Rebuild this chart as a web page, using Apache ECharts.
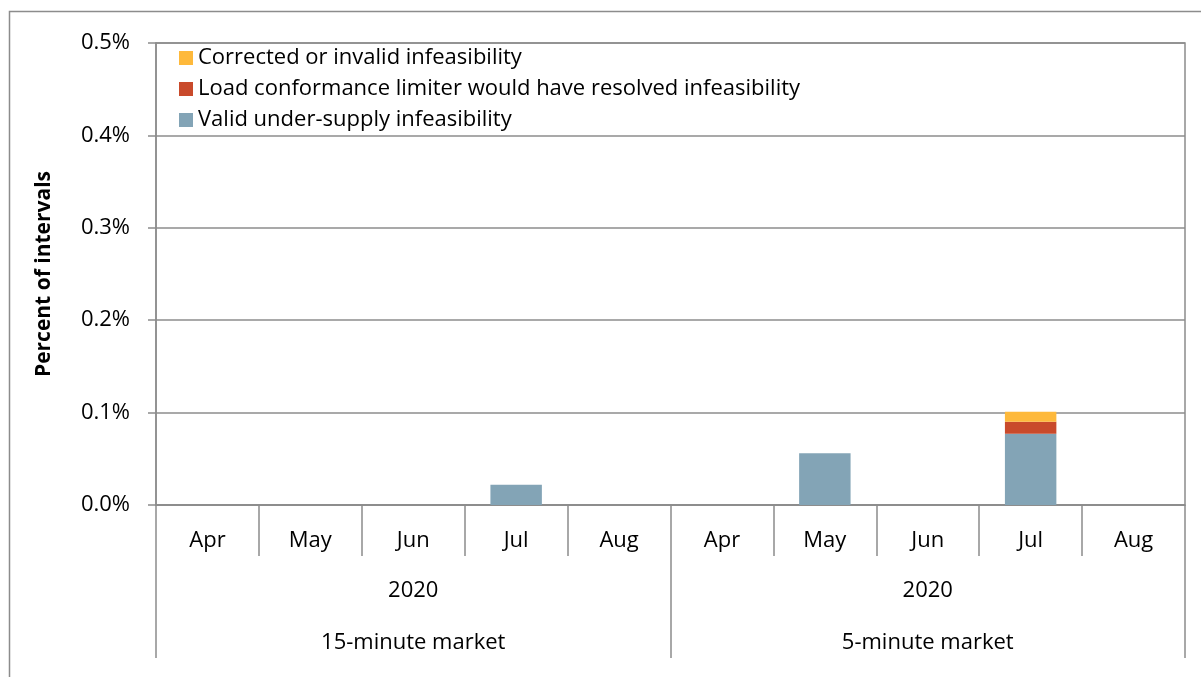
<!DOCTYPE html>
<html>
<head>
<meta charset="utf-8">
<script src="https://cdn.jsdelivr.net/npm/echarts@6/dist/echarts.min.js"></script>
<style>
  html, body { margin: 0; padding: 0; background: #fff; }
  #main { width: 1201px; height: 677px; }
</style>
</head>
<body>
<div id="main"></div>
<script>
// months, one per bar slot
var months = ['Apr', 'May', 'Jun', 'Jul', 'Aug', 'Apr', 'May', 'Jun', 'Jul', 'Aug'];
var years = ['2020', '2020'];
var markets = ['15-minute market', '5-minute market'];

// percent of intervals
var validUnder = [0, 0, 0, 0.022, 0, 0, 0.056, 0, 0.077, 0];
var loadConf = [0, 0, 0, 0, 0, 0, 0, 0, 0.013, 0];
var corrected = [0, 0, 0, 0, 0, 0, 0, 0, 0.011, 0];

var yTicks = [0, 0.1, 0.2, 0.3, 0.4, 0.5];

var FONT = 'Open Sans';
var FS = 22;
var GREY = '#8c8c8c';

var myChart = echarts.init(document.getElementById('main'));

var option = {
    backgroundColor: '#fff',
    animation: false,
    textStyle: { fontFamily: FONT, color: '#000' },
    graphic: [
        {
            // outer chart frame
            type: 'rect',
            shape: { x: 9.5, y: 11.5, width: 1300, height: 800 },
            style: { fill: 'none', stroke: GREY, lineWidth: 1.5 },
            silent: true
        }
    ],
    grid: {
        left: 156, right: 16, top: 43, bottom: 172,
        show: true,
        borderColor: GREY,
        borderWidth: 1.5
    },
    legend: {
        orient: 'vertical',
        left: 174,
        top: 42,
        itemWidth: 14,
        itemHeight: 14,
        itemGap: 9,
        icon: 'rect',
        data: ['Corrected or invalid infeasibility', 'Load conformance limiter would have resolved infeasibility', 'Valid under-supply infeasibility'],
        textStyle: { fontFamily: FONT, fontSize: FS, color: '#000' }
    },
    xAxis: [
        {
            type: 'category',
            data: months,
            axisLine: { show: true, lineStyle: { color: GREY, width: 1.5 } },
            axisTick: { show: true, length: 51, lineStyle: { color: GREY, width: 1.5 } },
            axisLabel: { margin: 25, fontSize: FS, color: '#000', fontFamily: FONT }
        },
        {
            type: 'category',
            data: years,
            position: 'bottom',
            axisLine: { show: false },
            axisTick: { show: true, length: 153, lineStyle: { color: GREY, width: 1.5 } },
            axisLabel: { margin: 75, fontSize: FS, color: '#000', fontFamily: FONT }
        },
        {
            type: 'category',
            data: markets,
            position: 'bottom',
            axisLine: { show: false },
            axisTick: { show: false },
            axisLabel: { margin: 127, fontSize: FS, color: '#000', fontFamily: FONT }
        }
    ],
    yAxis: {
        type: 'value',
        min: yTicks[0],
        max: yTicks[yTicks.length - 1],
        interval: 0.1,
        name: 'Percent of intervals',
        nameLocation: 'middle',
        nameGap: 101,
        nameTextStyle: { fontSize: FS - 1, fontWeight: 'bold', color: '#000', fontFamily: FONT },
        axisLine: { show: true, lineStyle: { color: GREY, width: 1.5 } },
        axisTick: { show: true, length: 8, lineStyle: { color: GREY, width: 1.5 } },
        axisLabel: {
            margin: 26, fontSize: FS, color: '#000', fontFamily: FONT,
            formatter: function (v) { return v.toFixed(1) + '%'; }
        },
        splitLine: { lineStyle: { color: GREY, width: 1.5 } }
    },
    series: [
        {
            name: 'Valid under-supply infeasibility',
            type: 'bar',
            stack: 'total',
            barCategoryGap: '50%',
            itemStyle: { color: '#83a4b6' },
            data: validUnder
        },
        {
            name: 'Load conformance limiter would have resolved infeasibility',
            type: 'bar',
            stack: 'total',
            itemStyle: { color: '#c94a2b' },
            data: loadConf
        },
        {
            name: 'Corrected or invalid infeasibility',
            type: 'bar',
            stack: 'total',
            itemStyle: { color: '#feb93b' },
            data: corrected
        }
    ]
};

myChart.setOption(option);
</script>
</body>
</html>
